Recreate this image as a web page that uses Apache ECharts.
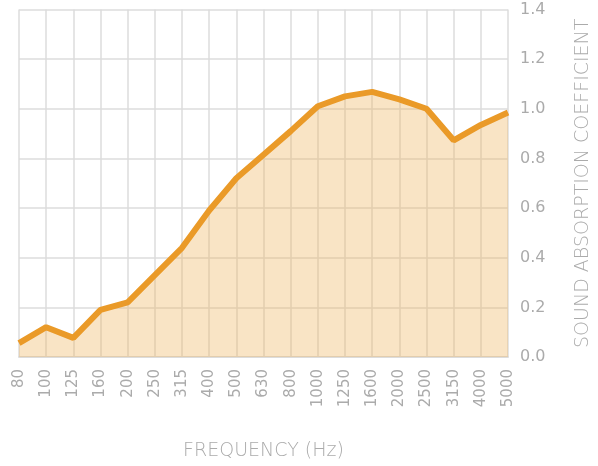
<!DOCTYPE html>
<html>
<head>
<meta charset="utf-8">
<script src="https://cdn.jsdelivr.net/npm/echarts@6/dist/echarts.min.js"></script>
<style>
  html, body { margin: 0; padding: 0; background: #fff; }
  #chart { width: 598px; height: 466px; }
</style>
</head>
<body>
<div id="chart"></div>
<script>
// 频率（Hz）
const frequencies = ['80', '100', '125', '160', '200', '250', '315', '400', '500', '630',
  '800', '1000', '1250', '1600', '2000', '2500', '3150', '4000', '5000'];
// 吸声系数
const absorption = [0.056, 0.12, 0.077, 0.19, 0.22, 0.33, 0.44, 0.59, 0.72, 0.815,
  0.91, 1.01, 1.05, 1.068, 1.038, 1.0, 0.873, 0.935, 0.985];

const labelColor = '#ababab';
const fontFamily = '"DejaVu Sans", sans-serif';

const chart = echarts.init(document.getElementById('chart'), null, { renderer: 'canvas' });

const option = {
  animation: false,
  grid: { left: 19, right: 90, top: 9.5, bottom: 109, containLabel: false, outerBoundsMode: 'none' },
  xAxis: {
    type: 'category',
    data: frequencies,
    boundaryGap: false,
    name: 'FREQUENCY (Hz)',
    nameLocation: 'middle',
    nameGap: 85,
    nameTextStyle: { color: labelColor, fontSize: 19, fontFamily: fontFamily, fontWeight: 200 },
    axisLine: { show: true, lineStyle: { color: '#dcdcdc', width: 2 } },
    axisTick: { show: false },
    axisLabel: {
      rotate: 90,
      margin: 12,
      color: labelColor,
      fontSize: 15,
      fontFamily: fontFamily,
      interval: 0
    },
    splitLine: { show: true, lineStyle: { color: '#dcdcdc', width: 1.5 } }
  },
  yAxis: {
    type: 'value',
    position: 'right',
    min: 0,
    max: 1.4,
    interval: 0.2,
    name: 'SOUND ABSORPTION COEFFICIENT',
    nameLocation: 'middle',
    nameGap: 66,
    nameRotate: 90,
    nameTextStyle: { color: labelColor, fontSize: 19, fontFamily: fontFamily, fontWeight: 200 },
    axisLine: { show: false },
    axisTick: { show: false },
    axisLabel: {
      margin: 12,
      color: labelColor,
      fontSize: 16,
      fontFamily: fontFamily,
      formatter: v => v.toFixed(1)
    },
    splitLine: { show: true, lineStyle: { color: '#dcdcdc', width: 1.5 } }
  },
  series: [{
    type: 'line',
    data: absorption,
    symbol: 'none',
    lineStyle: { color: '#EA9A28', width: 6 },
    areaStyle: { color: '#EFB25A', opacity: 0.35 },
    z: 3
  }]
};

chart.setOption(option);
</script>
</body>
</html>
